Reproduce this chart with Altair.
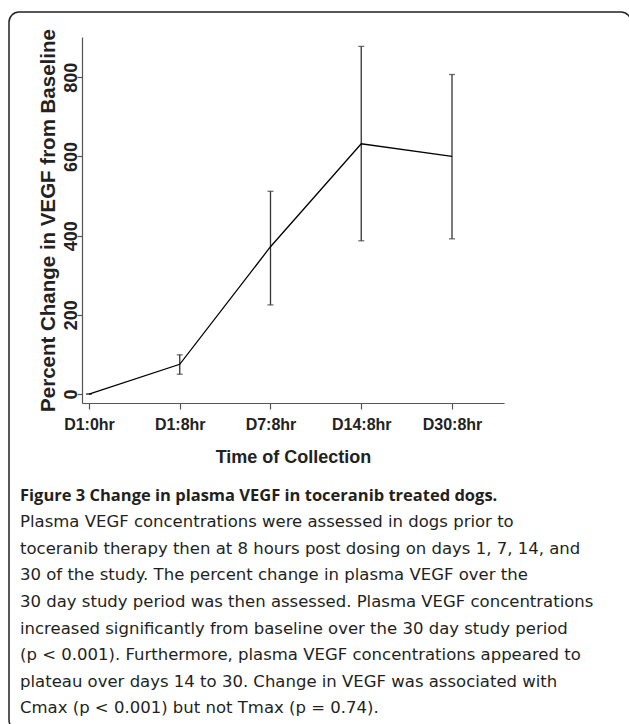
import json
import altair as alt
import pandas as pd

# ---- data ----
labels = ["D1:0hr", "D1:8hr", "D7:8hr", "D14:8hr", "D30:8hr"]
mean_change = [0, 75, 372, 632, 600]
lower = [0, 50, 225, 387, 392]
upper = [0, 99, 512, 878, 807]
y_ticks = [0, 200, 400, 600, 800]

x_title = "Time of Collection"
y_title = "Percent Change in VEGF from Baseline"
caption_title = "Figure 3 Change in plasma VEGF in toceranib treated dogs."
caption_lines = [
    "Plasma VEGF concentrations were assessed in dogs prior to",
    "toceranib therapy then at 8 hours post dosing on days 1, 7, 14, and",
    "30 of the study. The percent change in plasma VEGF over the",
    "30 day study period was then assessed. Plasma VEGF concentrations",
    "increased significantly from baseline over the 30 day study period",
    "(p < 0.001). Furthermore, plasma VEGF concentrations appeared to",
    "plateau over days 14 to 30. Change in VEGF was associated with",
    "Cmax (p < 0.001) but not Tmax (p = 0.74).",
]

df = pd.DataFrame({
    "idx": list(range(len(labels))),
    "label": labels,
    "mean": mean_change,
    "lower": lower,
    "upper": upper,
})
one = pd.DataFrame({"k": [0]})

W, H = 422, 366
AX_FONT = "Liberation Sans"
HEAD_FONT = "Open Sans"
BODY_FONT = "DejaVu Sans"
AX_COLOR = "#555555"

x_scale = alt.Scale(domain=[-0.077, 4.573], nice=False, zero=False)
y_scale = alt.Scale(domain=[-22.7, 901.7], nice=False, zero=False)

x_axis = alt.Axis(
    values=list(range(len(labels))),
    labelExpr=f"{json.dumps(labels)}[datum.value]",
    title=x_title, grid=False,
    domainColor=AX_COLOR, domainWidth=1.2,
    tickColor=AX_COLOR, tickWidth=1.2, tickSize=6,
    labelFont=AX_FONT, labelFontWeight="bold", labelFontSize=16, labelColor="#222222",
    labelBaseline="alphabetic", labelPadding=20, labelAlign="center",
    titleFont=AX_FONT, titleFontWeight="bold", titleFontSize=18, titleColor="#222222",
    titleX=W / 2, titleY=59, titleAlign="center", titleBaseline="alphabetic",
)
y_axis = alt.Axis(
    values=y_ticks, title=y_title, grid=False,
    domainColor=AX_COLOR, domainWidth=1.2,
    tickColor=AX_COLOR, tickWidth=1.2, tickSize=5,
    labelFont=AX_FONT, labelFontWeight="bold", labelFontSize=18, labelColor="#222222",
    labelAngle=270, labelAlign="center", labelBaseline="alphabetic", labelPadding=1,
    titleFont=AX_FONT, titleFontWeight="bold", titleFontSize=20.5, titleColor="#222222",
    titleAngle=270, titleAlign="center", titleBaseline="alphabetic",
    titleX=-28, titleY=H / 2,
)

base = alt.Chart(df)
X = alt.X("idx:Q", scale=x_scale, axis=x_axis)

line = base.mark_line(color="black", strokeWidth=1.3).encode(
    x=X, y=alt.Y("mean:Q", scale=y_scale, axis=y_axis)
)
bars = base.mark_rule(color="#333333", strokeWidth=1.3).encode(
    x=X, y=alt.Y("lower:Q", scale=y_scale, axis=y_axis), y2="upper:Q"
)
cap_lo = base.mark_tick(color="#333333", orient="horizontal", size=6, thickness=1.3).encode(
    x=X, y=alt.Y("lower:Q", scale=y_scale, axis=y_axis)
)
cap_hi = base.mark_tick(color="#333333", orient="horizontal", size=6, thickness=1.3).encode(
    x=X, y=alt.Y("upper:Q", scale=y_scale, axis=y_axis)
)

frame = alt.Chart(one).mark_rect(
    fill="white", fillOpacity=0, stroke="#222222", strokeWidth=1.5, cornerRadius=10
).encode(
    x=alt.value(-73), x2=alt.value(549), y=alt.value(-25), y2=alt.value(693)
)

cap_head = alt.Chart(one).mark_text(
    text=caption_title, font=HEAD_FONT, fontWeight="bold", fontSize=16.5,
    color="#231f20", align="left", baseline="alphabetic",
).encode(x=alt.value(-62), y=alt.value(463.7))

cap_body = alt.Chart(one).mark_text(
    text=caption_lines, font=BODY_FONT, fontSize=16.5, lineHeight=26.6,
    color="#231f20", align="left", baseline="alphabetic",
).encode(x=alt.value(-62), y=alt.value(490.2))

chart = alt.layer(frame, bars, cap_lo, cap_hi, line, cap_head, cap_body).properties(
    width=W, height=H,
    autosize=alt.AutoSizeParams(type="none"),
    padding={"left": 82, "top": 37, "right": 125, "bottom": 321},
    background="white",
).configure_view(stroke=None)

chart.save("out.html", embed_options={"renderer": "svg", "actions": False})
